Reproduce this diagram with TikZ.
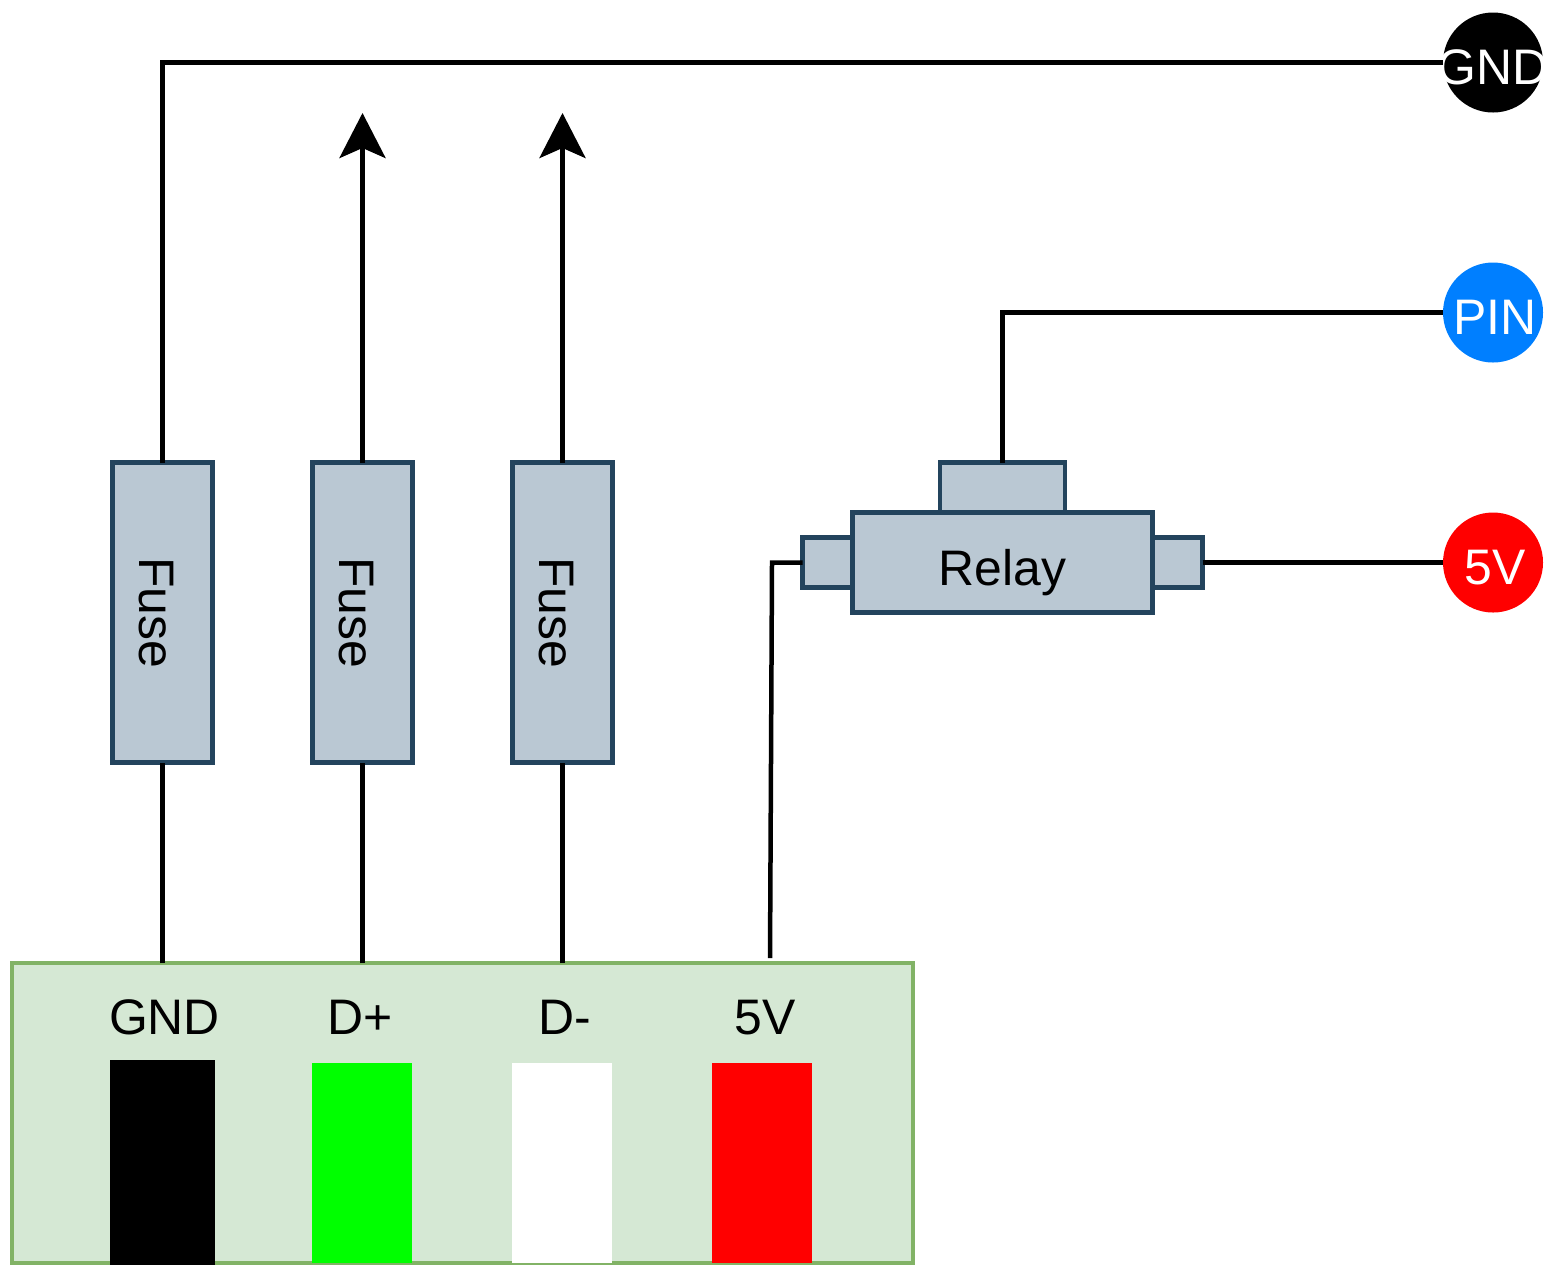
\documentclass[tikz,border=0pt]{standalone}
\usepackage{fontspec}
\setmainfont{Liberation Sans}
\usetikzlibrary{arrows.meta}

\begin{document}
\begin{tikzpicture}
  [every node/.style={font=\fontsize{14.2}{17}\selectfont, inner sep=0pt, outer sep=0pt},
   part/.style={rectangle, draw=partline, fill=partfill, line width=0.045cm},
   fuse/.style={part, minimum width=1cm, minimum height=3cm},
   pad/.style={circle, minimum size=1cm, text=white, text height=0.44cm, text depth=0pt},
   strip/.style={rectangle, minimum width=1cm, minimum height=2cm},
   tag/.style={anchor=base},
   wire/.style={line width=0.045cm},
   arrowwire/.style={wire, -{Stealth[length=0.45cm, width=0.46cm, inset=0.1cm]}}]

  \definecolor{partline}{HTML}{23445D}
  \definecolor{partfill}{HTML}{BAC8D3}
  \definecolor{boardline}{HTML}{82B366}
  \definecolor{boardfill}{HTML}{D5E8D4}
  \definecolor{pinblue}{HTML}{007FFF}

  \useasboundingbox (0,0) rectangle (15.6,-12.75);

  % Connector
  \node (board) at (4.625,-11.13) [rectangle, draw=boardline, fill=boardfill, line width=0.045cm,
    minimum width=9.01cm, minimum height=3cm] {};
  \node (stripgnd) at (1.625,-11.625) [strip, fill=black, minimum width=1.05cm, minimum height=2.05cm] {};
  \node (stripdp) at (3.62,-11.625) [strip, fill=green] {};
  \node (stripdm) at (5.62,-11.625) [strip, fill=white] {};
  \node (strip5v) at (7.62,-11.625) [strip, fill=red] {};
  \node (taggnd) at (1.645,-10.34) [tag] {GND};
  \node (tagdp) at (3.6,-10.34) [tag] {D+};
  \node (tagdm) at (5.65,-10.34) [tag] {D-};
  \node (tag5v) at (7.65,-10.34) [tag] {5V};

  % Fuses
  \node (fuse1) at (1.625,-6.125) [fuse] {\rotatebox{-90}{\rule{0pt}{0.93em}Fuse}};
  \node (fuse2) at (3.625,-6.125) [fuse] {\rotatebox{-90}{\rule{0pt}{0.93em}Fuse}};
  \node (fuse3) at (5.625,-6.125) [fuse] {\rotatebox{-90}{\rule{0pt}{0.93em}Fuse}};

  % Relay
  \node (relaytop) at (10.025,-4.875) [part, minimum width=1.25cm, minimum height=0.5cm] {};
  \node (relayleft) at (8.275,-5.625) [part, minimum width=0.5cm, minimum height=0.5cm] {};
  \node (relayright) at (11.775,-5.625) [part, minimum width=0.5cm, minimum height=0.5cm] {};
  \node (relay) at (10.025,-5.625) [part, minimum width=3cm, minimum height=1cm,
    text height=0.45cm, text depth=0pt] {Relay};

  % Pads
  \node (padgnd) at (14.93,-0.625) [pad, fill=black] {\makebox[0pt]{GND}};
  \node (padpin) at (14.93,-3.125) [pad, fill=pinblue] {\kern0.04cm PIN};
  \node (pad5v) at (14.93,-5.625) [pad, fill=red] {\kern0.04cm 5V};

  \coordinate (enddp) at (3.625,-1.13);
  \coordinate (enddm) at (5.625,-1.13);
  \coordinate (start5v) at (7.70,-9.58);

  % Wires
  \draw [wire] (fuse1.south |- board.north) -- (fuse1.south);
  \draw [wire] (fuse2.south |- board.north) -- (fuse2.south);
  \draw [wire] (fuse3.south |- board.north) -- (fuse3.south);
  \draw [wire] (fuse1.north) |- (padgnd.west);
  \draw [arrowwire] (fuse2.north) -- (enddp);
  \draw [arrowwire] (fuse3.north) -- (enddm);
  \draw [wire] (relaytop.north) |- (padpin.west);
  \draw [wire] (relayright.east) -- (pad5v.west);
  \draw [wire] (start5v) -- (7.72,-5.625) -- (relayleft.west);
\end{tikzpicture}
\end{document}
